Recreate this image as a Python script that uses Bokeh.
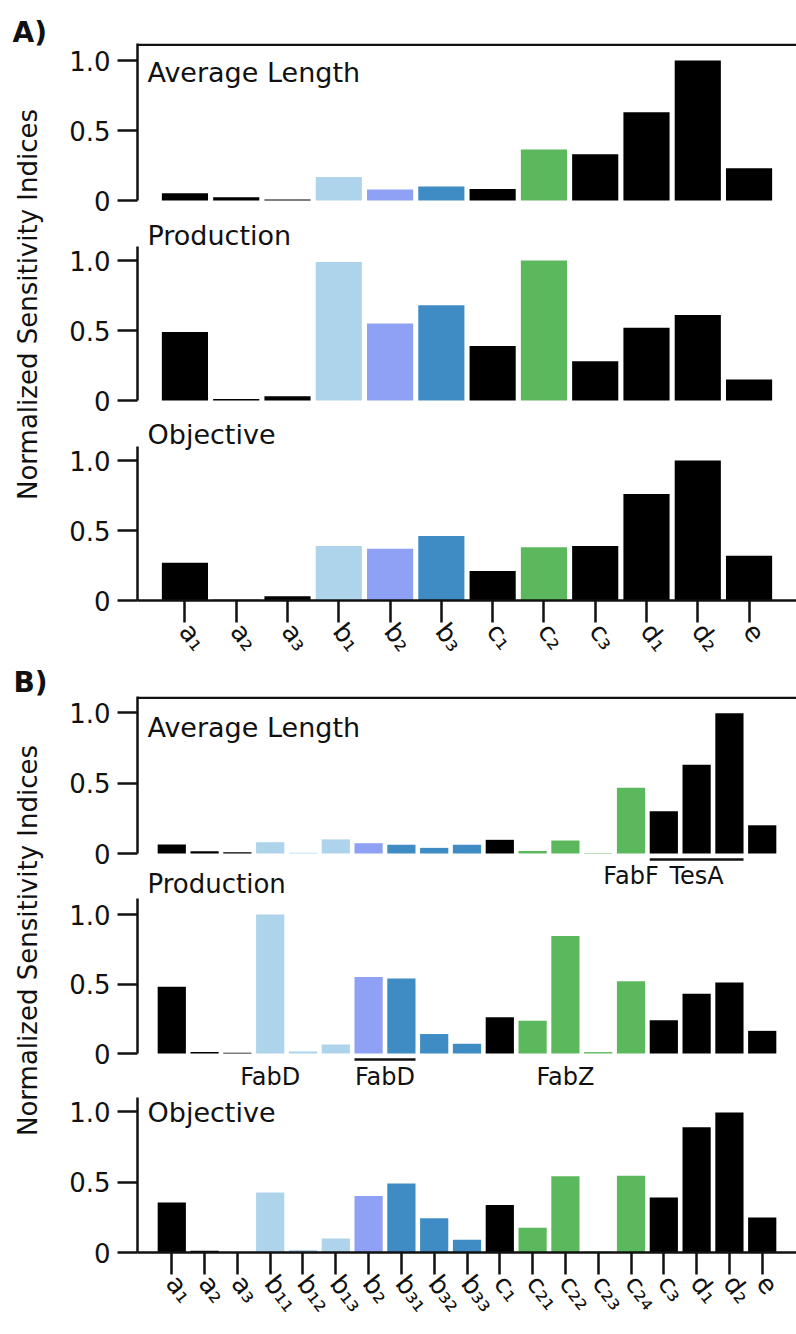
import math
from bokeh.plotting import figure
from bokeh.models import (ColumnDataSource, FactorRange, Range1d, FixedTicker,
                          Span, Label)
from bokeh.layouts import row, column
from bokeh.transform import dodge
from bokeh.core.properties import value
from bokeh.embed import file_html
from bokeh.resources import INLINE

# ---------------- data ----------------
panel_letters = ["A)", "B)"]
y_label = "Normalized Sensitivity Indices"
metric_names = ["Average Length", "Production", "Objective"]

cats_a = ["a₁", "a₂", "a₃", "b₁", "b₂", "b₃", "c₁", "c₂", "c₃", "d₁", "d₂", "e"]
avg_len_a = [0.052, 0.024, 0.008, 0.167, 0.079, 0.10, 0.083, 0.364, 0.33, 0.63, 1.0, 0.23]
production_a = [0.49, 0.01, 0.03, 0.99, 0.55, 0.68, 0.39, 1.0, 0.28, 0.52, 0.61, 0.15]
objective_a = [0.27, 0.005, 0.03, 0.39, 0.37, 0.46, 0.21, 0.38, 0.39, 0.76, 1.0, 0.32]

cats_b = ["a₁", "a₂", "a₃", "b₁₁", "b₁₂", "b₁₃", "b₂", "b₃₁", "b₃₂", "b₃₃",
          "c₁", "c₂₁", "c₂₂", "c₂₃", "c₂₄", "c₃", "d₁", "d₂", "e"]
avg_len_b = [0.064, 0.016, 0.008, 0.08, 0.005, 0.10, 0.073, 0.062, 0.04, 0.062,
             0.097, 0.018, 0.092, 0.003, 0.466, 0.30, 0.63, 0.995, 0.20]
production_b = [0.48, 0.01, 0.006, 1.0, 0.015, 0.065, 0.55, 0.54, 0.14, 0.07,
                0.26, 0.235, 0.845, 0.01, 0.52, 0.24, 0.43, 0.51, 0.163]
objective_b = [0.355, 0.012, 0.0, 0.425, 0.017, 0.10, 0.40, 0.49, 0.243, 0.09,
               0.336, 0.175, 0.541, 0.007, 0.544, 0.39, 0.889, 0.993, 0.248]

# gene annotations of panel B
ann_al_text = ["FabF", "TesA"]
ann_al_at = ["c₂₄", "d₁"]
bracket_al = (["c₃"], ["d₂"])
ann_pr_text = ["FabD", "FabZ"]
ann_pr_at = ["b₁₁", "c₂₂"]
ann_pr_pair_text = ["FabD"]
ann_pr_pair_at = ["b₂"]          # centred between b₂ and b₃₁
bracket_pr = (["b₂"], ["b₃₁"])

# ---------------- style ----------------
FONT = "DejaVu Sans"
INK = "#111111"
BLACK = "#000000"
LIGHT_BLUE = "#aed4ec"
PERIWINKLE = "#8fa1f4"
STEEL = "#3f8cc5"
GREEN = "#5cb85c"

colors_a = [BLACK, BLACK, BLACK, LIGHT_BLUE, PERIWINKLE, STEEL,
            BLACK, GREEN, BLACK, BLACK, BLACK, BLACK]
colors_b = [BLACK, BLACK, BLACK, LIGHT_BLUE, LIGHT_BLUE, LIGHT_BLUE, PERIWINKLE,
            STEEL, STEEL, STEEL, BLACK, GREEN, GREEN, GREEN, GREEN,
            BLACK, BLACK, BLACK, BLACK]

W_LAB = 60
W_SUB = 796 - W_LAB
FRAME_LEFT = 137 - W_LAB


def subplot(cats, vals, colors, bar_w, pad, height, top, bottom, y0, y1,
            spine_top, px_per_unit, top_line=False, x_axis=False):
    p = figure(width=W_SUB, height=height,
               x_range=FactorRange(factors=cats, range_padding=pad,
                                   range_padding_units="absolute"),
               y_range=Range1d(y0, y1),
               x_axis_location="below" if x_axis else None,
               y_axis_location="left",
               output_backend="svg", toolbar_location=None,
               min_border_left=FRAME_LEFT, min_border_right=0,
               min_border_top=top, min_border_bottom=bottom)
    p.outline_line_color = None
    p.grid.visible = False
    p.background_fill_color = "white"
    p.border_fill_color = "white"
    src = ColumnDataSource(dict(cat=cats, val=vals, color=colors))
    p.vbar(x="cat", top="val", bottom=0, width=bar_w, fill_color="color",
           line_color=None, source=src)

    ya = p.yaxis[0]
    ya.ticker = FixedTicker(ticks=[0, 0.5, 1])
    ya.major_label_overrides = {0: "0", 0.5: "0.5", 1: "1.0"}
    ya.bounds = (0, spine_top)
    ya.axis_line_width = 2.5
    ya.axis_line_color = INK
    ya.major_tick_line_width = 2.5
    ya.major_tick_line_color = INK
    ya.major_tick_out = 20
    ya.major_tick_in = 0
    ya.minor_tick_line_color = None
    ya.major_label_standoff = 7
    ya.major_label_text_font = FONT
    ya.major_label_text_font_size = "26px"
    ya.major_label_text_color = INK

    if x_axis:
        xa = p.xaxis[0]
        xa.axis_line_width = 2.5
        xa.axis_line_color = INK
        xa.major_tick_line_width = 2.5
        xa.major_tick_line_color = INK
        xa.major_tick_out = 22
        xa.major_tick_in = 0
        xa.minor_tick_line_color = None
        xa.major_label_standoff = 4
        xa.major_label_orientation = -0.9
        xa.major_label_text_font = FONT
        xa.major_label_text_font_size = "26px"
        xa.major_label_text_color = INK

    if top_line:
        p.add_layout(Span(location=y1 - 1.25 / px_per_unit, dimension="width",
                          line_width=2.5, line_color=INK))
    return p


def metric_label(p, text, y, size="27px"):
    p.add_layout(Label(x=10, x_units="screen", y=y, text=text,
                       text_font=FONT, text_font_size=size, text_color=INK,
                       text_baseline="middle"))


# ---------------- panel A (140 px per unit) ----------------
PA = 140
BW_A, PAD_A = 0.9, 0.425
alA = subplot(cats_a, avg_len_a, colors_a, BW_A, PAD_A, 216, 43, 0,
              -16 / PA, 157 / PA, 157 / PA, PA, top_line=True)
prA = subplot(cats_a, production_a, colors_a, BW_A, PAD_A, 200, 0, 0,
              -16 / PA, 184 / PA, 1.1, PA)
obA = subplot(cats_a, objective_a, colors_a, BW_A, PAD_A, 274, 0, 90,
              0, 184 / PA, 1.1, PA, x_axis=True)
metric_label(alA, metric_names[0], 128 / PA)
metric_label(prA, metric_names[1], 165 / PA)
metric_label(obA, metric_names[2], 166 / PA)

# ---------------- panel B (about 140 px per unit) ----------------
PB = 141
PBP = 139
BW_B, PAD_B = 0.86, 0.545
alB = subplot(cats_b, avg_len_b, colors_b, BW_B, PAD_B, 208, 6, 0,
              -45 / PB, 157 / PB, 157 / PB, PB, top_line=True)
prB = subplot(cats_b, production_b, colors_b, BW_B, PAD_B, 195, 0, 0,
              -40 / PBP, 155 / PBP, 155 / PBP, PBP)
obB = subplot(cats_b, objective_b, colors_b, BW_B, PAD_B, 241, 0, 82,
              0, 159 / PB, 1.1, PB, x_axis=True)
metric_label(alB, metric_names[0], 126 / PB)
metric_label(alB, metric_names[1], -30 / PB, size="26px")
metric_label(obB, metric_names[2], 140 / PB)

ann_style = dict(text_font=value(FONT), text_font_size="24px", text_color=INK,
                 text_align="center", text_baseline="middle")

# annotations under Average Length (B)
s1 = ColumnDataSource(dict(at=ann_al_at, text=ann_al_text))
alB.text(x="at", y=-22 / PB, text="text", source=s1, **ann_style)
b1 = ColumnDataSource(dict(start=bracket_al[0], end=bracket_al[1]))
alB.segment(x0=dodge("start", -0.43, range=alB.x_range),
            x1=dodge("end", 0.43, range=alB.x_range),
            y0=-6 / PB, y1=-6 / PB, line_width=2.5, line_color=INK, source=b1)

# annotations under Production (B)
s2 = ColumnDataSource(dict(at=ann_pr_at, text=ann_pr_text))
prB.text(x="at", y=-23 / PBP, text="text", source=s2, **ann_style)
s3 = ColumnDataSource(dict(at=ann_pr_pair_at, text=ann_pr_pair_text))
prB.text(x=dodge("at", 0.5, range=prB.x_range), y=-23 / PBP, text="text",
         source=s3, **ann_style)
b2 = ColumnDataSource(dict(start=bracket_pr[0], end=bracket_pr[1]))
prB.segment(x0=dodge("start", -0.43, range=prB.x_range),
            x1=dodge("end", 0.43, range=prB.x_range),
            y0=-6 / PBP, y1=-6 / PBP, line_width=2.5, line_color=INK, source=b2)

# ---------------- left strip: panel letters and y labels ----------------
lab = figure(width=W_LAB, height=1334, x_range=Range1d(0, W_LAB),
             y_range=Range1d(1334, 0), x_axis_location=None,
             y_axis_location=None, min_border=0, output_backend="svg",
             toolbar_location=None)
lab.outline_line_color = None
lab.grid.visible = False
lab.add_layout(Label(x=12, y=32, text=panel_letters[0], text_font=FONT,
                     text_font_style="bold", text_font_size="28px",
                     text_color=INK, text_baseline="middle"))
lab.add_layout(Label(x=13, y=682, text=panel_letters[1], text_font=FONT,
                     text_font_style="bold", text_font_size="28px",
                     text_color=INK, text_baseline="middle"))
for yc in (304, 940):
    lab.add_layout(Label(x=27, y=yc, text=y_label, angle=math.pi / 2,
                         text_font=FONT, text_font_size="26px", text_color=INK,
                         text_align="center", text_baseline="middle"))

layout = row(lab, column(alA, prA, obA, alB, prB, obB, spacing=0), spacing=0)
open("out.html", "w").write(file_html(layout, INLINE))
